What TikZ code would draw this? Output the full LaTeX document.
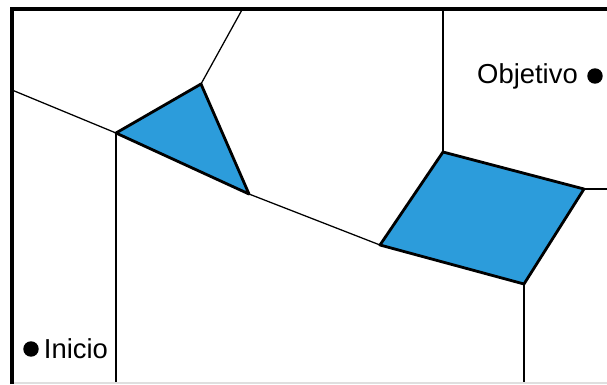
\documentclass[tikz,border=0pt]{standalone}
\usepackage{fontspec}
\setmainfont{Liberation Sans}
\definecolor{cellblue}{RGB}{44,156,219}
\usetikzlibrary{positioning}

\begin{document}
\begin{tikzpicture}[x=0.025cm,y=-0.025cm,
    every node/.style={font=\fontsize{19.5}{22}\selectfont},
    edge/.style={draw,line width=0.9pt},
    obstacle/.style={draw,fill=cellblue,line width=2pt,line join=round},
    frame/.style={draw,line width=3pt},
    dot/.style={circle,fill=black,inner sep=0pt,minimum size=11pt}]
  \useasboundingbox (0,0) rectangle (607,384);
  % corners of the cells
  \coordinate (ta) at (116,133);
  \coordinate (tb) at (201,84);
  \coordinate (tc) at (249,194);
  \coordinate (qa) at (380,245);
  \coordinate (qb) at (443,152);
  \coordinate (qc) at (584,189);
  \coordinate (qd) at (524,284);
  % ends on the border
  \coordinate (wleft) at (12,90);
  \coordinate (wtopa) at (243,8);
  \coordinate (wtopb) at (443,9);
  \coordinate (wright) at (607,189);
  \coordinate (wbota) at (116,384);
  \coordinate (wbotb) at (524,384);
  % cell boundaries
  \draw[edge] (wleft) -- (ta);
  \draw[edge] (tb) -- (wtopa);
  \draw[edge] (ta) -- (wbota);
  \draw[edge] (tc) -- (qa);
  \draw[edge] (qb) -- (wtopb);
  \draw[edge] (qc) -- (wright);
  \draw[edge] (qd) -- (wbotb);
  % obstacles
  \draw[obstacle] (ta) -- (tb) -- (tc) -- cycle;
  \draw[obstacle] (qa) -- (qb) -- (qc) -- (qd) -- cycle;
  % frame
  \draw[gray!25,line width=1pt] (12,383) -- (607,383);
  \draw[frame] (12,384) -- (12,9) -- (607,9);
  % start and goal
  \node[dot] (inicio) at (31,349) {};
  \node[right=0pt of inicio] (inicioText) {Inicio};
  \node[dot] (objetivo) at (595,76) {};
  \node[left=3pt of objetivo] (objetivoText) {Objetivo};
\end{tikzpicture}
\end{document}
